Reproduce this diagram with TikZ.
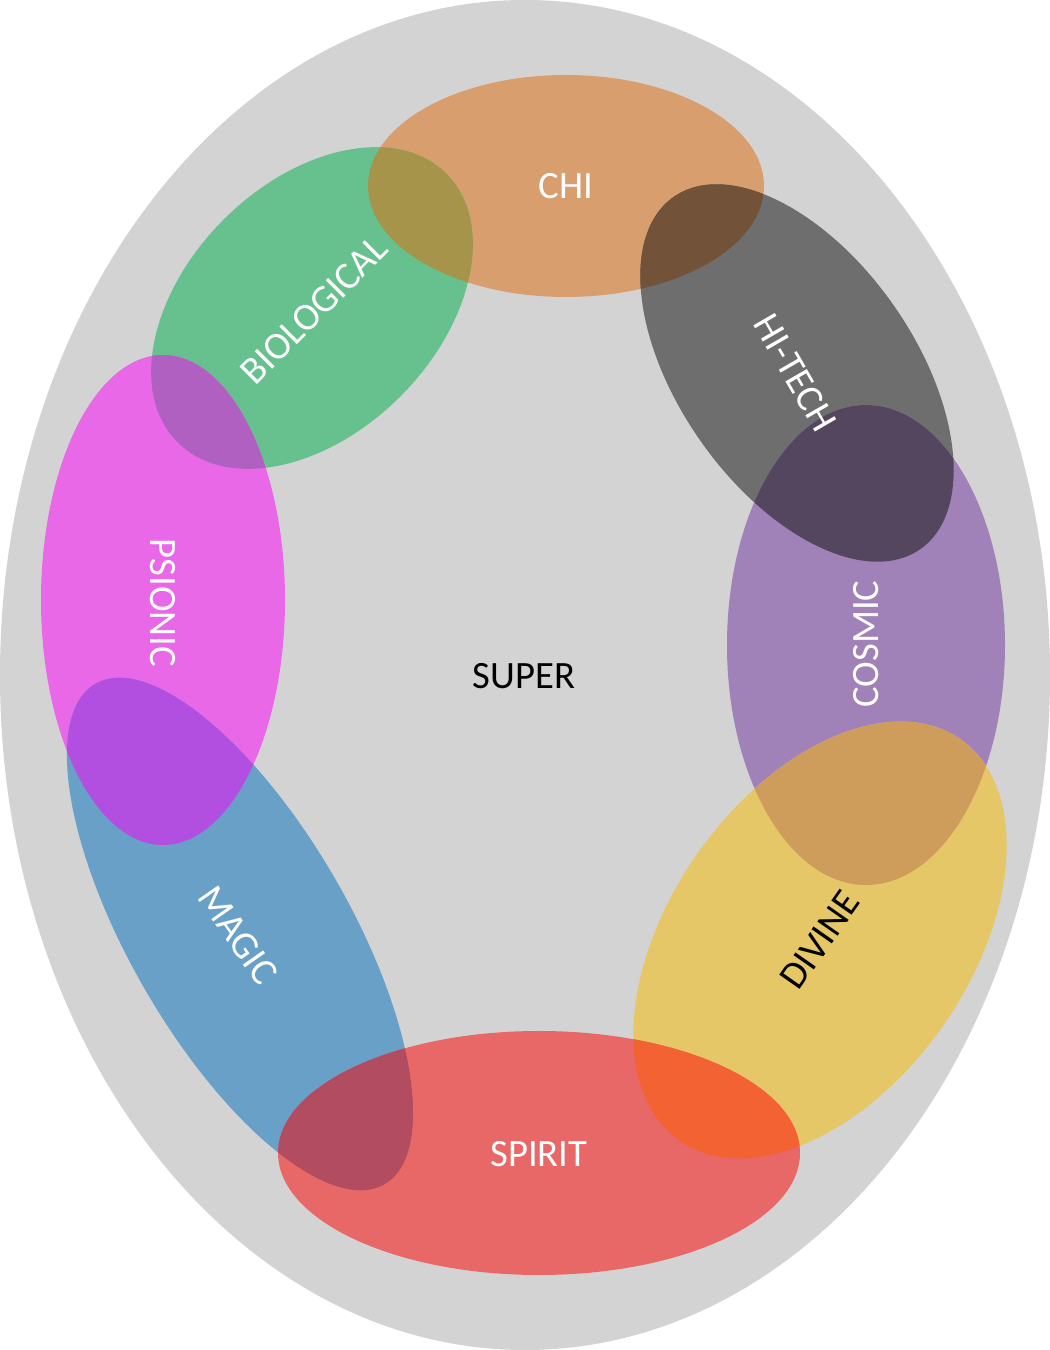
\documentclass[tikz,border=0pt]{standalone}
\usepackage{fontspec}
\setmainfont{Carlito}
\definecolor{outergray}{RGB}{211,211,211}
\definecolor{chicol}{RGB}{217,158,110}
\definecolor{biocol}{RGB}{102,193,142}
\definecolor{techcol}{RGB}{110,110,110}
\definecolor{psicol}{RGB}{232,104,232}
\definecolor{cosmcol}{RGB}{160,130,185}
\definecolor{magcol}{RGB}{104,160,199}
\definecolor{divcol}{RGB}{230,199,104}
\definecolor{spicol}{RGB}{232,104,104}
\tikzset{
  tag/.style={font=\fontsize{22}{24}\selectfont, text=white, inner sep=0pt},
  chirot/.style={},
  biorot/.style={rotate around={45:(312,1042)}},
  techrot/.style={rotate around={-55:(797,977)}},
  psirot/.style={},
  cosmrot/.style={},
  magrot/.style={rotate around={-60:(240,416)}},
  divrot/.style={rotate around={55:(820,410)}},
  spirot/.style={}
}
\def\chishape{(566,1164) ellipse (198 and 111)}
\def\bioshape{(312,1042) ellipse (190 and 125)}
\def\techshape{(797,977) ellipse (215 and 118)}
\def\psishape{(163,750) ellipse (122 and 245)}
\def\cosmshape{(866,705) ellipse (139 and 240)}
\def\magshape{(240,416) ellipse (289 and 110)}
\def\divshape{(820,410) ellipse (245 and 150)}
\def\spishape{(539,197) ellipse (261 and 122)}
\begin{document}
\begin{tikzpicture}[x=0.02cm, y=0.02cm]
    \useasboundingbox (0,0) rectangle (1050,1350);
    \fill[outergray] (525,675) ellipse (525 and 675);

    % blobs
    \fill[chicol, chirot] \chishape;
    \fill[biocol, biorot] \bioshape;
    \fill[techcol, techrot] \techshape;
    \fill[psicol, psirot] \psishape;
    \fill[cosmcol, cosmrot] \cosmshape;
    \fill[magcol, magrot] \magshape;
    \fill[divcol, divrot] \divshape;
    \fill[spicol, spirot] \spishape;

    % overlaps
    \begin{scope} \clip[chirot] \chishape; \fill[fill={rgb,255:red,166;green,148;blue,74}, biorot] \bioshape; \end{scope}
    \begin{scope} \clip[chirot] \chishape; \fill[fill={rgb,255:red,115;green,82;blue,58}, techrot] \techshape; \end{scope}
    \begin{scope} \clip[psirot] \psishape; \fill[fill={rgb,255:red,176;green,96;blue,192}, biorot] \bioshape; \end{scope}
    \begin{scope} \clip[psirot] \psishape; \fill[fill={rgb,255:red,179;green,79;blue,224}, magrot] \magshape; \end{scope}
    \begin{scope} \clip[spirot] \spishape; \fill[fill={rgb,255:red,178;green,76;blue,96}, magrot] \magshape; \end{scope}
    \begin{scope} \clip[spirot] \spishape; \fill[fill={rgb,255:red,242;green,98;blue,50}, divrot] \divshape; \end{scope}
    \begin{scope} \clip[cosmrot] \cosmshape; \fill[fill={rgb,255:red,206;green,157;blue,92}, divrot] \divshape; \end{scope}
    \begin{scope} \clip[cosmrot] \cosmshape; \fill[fill={rgb,255:red,85;green,70;blue,95}, techrot] \techshape; \end{scope}

    % labels
    \node[tag] (chi) at (566,1164) {CHI};
    \node[tag, rotate=45] (bio) at (314,1040) {BIOLOGICAL};
    \node[tag, rotate=-60] (tech) at (795,977) {HI-TECH};
    \node[tag, rotate=-90] (psi) at (163,747) {PSIONIC};
    \node[tag, rotate=90] (cosm) at (866,706) {COSMIC};
    \node[tag, rotate=-55] (mag) at (238,415) {MAGIC};
    \node[tag, rotate=55, text=black] (div) at (820,410) {DIVINE};
    \node[tag] (spi) at (539,196) {SPIRIT};
    \node[tag, text=black] (super) at (524,674) {SUPER};
\end{tikzpicture}
\end{document}
